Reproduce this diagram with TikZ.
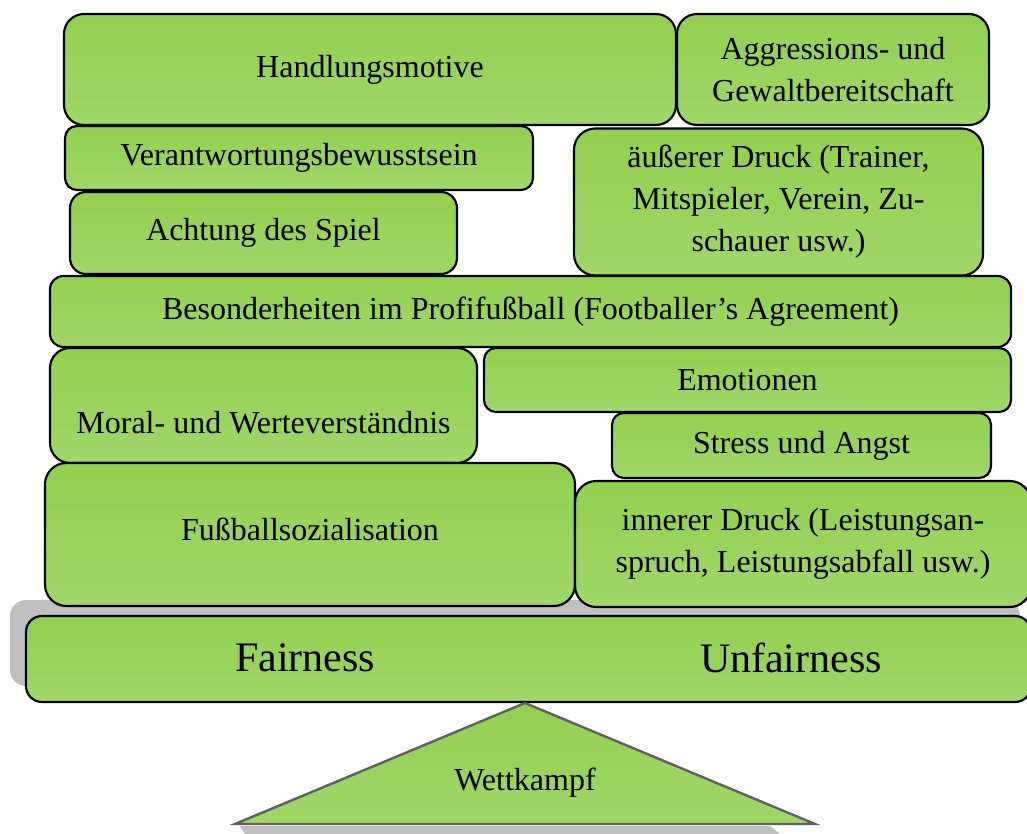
\documentclass[tikz,border=0pt]{standalone}
\usepackage{fontspec}
\setmainfont{Liberation Serif}
\usepackage{tikz}

\definecolor{grasstop}{RGB}{146,208,80}
\definecolor{grassbot}{RGB}{160,215,106}
\definecolor{shadowgrey}{RGB}{191,191,191}
\definecolor{edgegrey}{RGB}{95,95,95}

\tikzset{
  blok/.style={draw=black, line width=1.6pt, rounded corners=12pt,
    top color=grasstop, bottom color=grassbot, inner sep=0pt, align=center,
    font=\fontsize{24}{31.5}\selectfont},
  txt/.style={inner sep=0pt, align=center, font=\fontsize{24}{31.5}\selectfont},
  bigtxt/.style={inner sep=0pt, font=\fontsize{31.5}{36}\selectfont}
}

\begin{document}
\begin{tikzpicture}[x=0.75pt,y=0.75pt,yscale=-1,xscale=1]
\useasboundingbox (0,0) rectangle (1027,834);
% grey shadow behind the bar
\fill[shadowgrey, rounded corners=12pt] (10,600) rectangle (1020,686);
% top layers
\node[blok, rounded corners=15pt, minimum width=459pt, minimum height=83.25pt] (handl) at (370,69.5) {Handlungsmotive};
\node[blok, rounded corners=15pt, minimum width=234pt, minimum height=83.25pt] (aggr) at (833,69.5) {Aggressions- und\\Gewaltbereitschaft};
\node[blok, rounded corners=9pt, minimum width=351pt, minimum height=48pt] (verant) at (299,158) {Verantwortungsbewusstsein};
\node[blok, minimum width=290.25pt, minimum height=61.5pt] (achtung) at (263.5,233) {Achtung des Spiel};
\node[blok, rounded corners=16pt, minimum width=306.75pt, minimum height=110.25pt] (aussen) at (778.5,202) {äußerer Druck (Trainer,\\Mitspieler, Verein, Zu-\\schauer usw.)};
\node[blok, rounded corners=10pt, minimum width=720.75pt, minimum height=53.25pt] (besond) at (530.5,311.5) {Besonderheiten im Profifußball (Footballer’s Agreement)};
% middle layers
\node[blok, rounded corners=15pt, minimum width=320.25pt, minimum height=86.25pt] (moral) at (263.5,405.5) {};
\node[txt] (moraltxt) at (263.5,423) {Moral- und Werteverständnis};
\node[blok, rounded corners=9pt, minimum width=395.25pt, minimum height=48pt] (emot) at (747.5,380) {Emotionen};
\node[blok, rounded corners=9pt, minimum width=284.25pt, minimum height=48.75pt] (stress) at (801.5,445.5) {Stress und Angst};
\node[blok, rounded corners=16pt, minimum width=397.5pt, minimum height=107.25pt] (fuss) at (310,534.5) {};
\node[txt] (fusstxt) at (310,529) {Fußballsozialisation};
\node[blok, rounded corners=16pt, minimum width=342pt, minimum height=94.5pt] (innen) at (803,544) {innerer Druck (Leistungsan-\\spruch, Leistungsabfall usw.)};
% the bar
\node[blok, rounded corners=12pt, minimum width=753.75pt, minimum height=64.5pt] (bar) at (528.5,659) {};
\node[bigtxt] (fair) at (305,658) {Fairness};
\node[bigtxt] (unfair) at (791,658) {Unfairness};
% the pivot
\fill[shadowgrey] (240,826) -- (770,826) -- (780,834) -- (245,834) -- cycle;
\draw[edgegrey, line width=1.8pt, top color=grasstop, bottom color=grassbot] (525,703) -- (815,824) -- (235,824) -- cycle;
\node[txt] (wett) at (525,783) {Wettkampf};
\end{tikzpicture}
\end{document}
